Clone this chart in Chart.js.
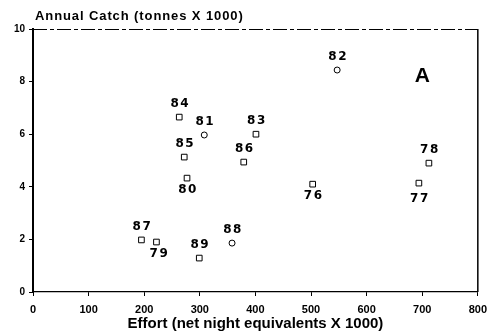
<!DOCTYPE html>
<html lang="en">
<head>
  <meta charset="UTF-8" />
  <title>annual catch vs effort</title>
  <script src="https://cdn.jsdelivr.net/npm/chart.js@4.4.0/dist/chart.umd.min.js"></script>
  <style>
    body { margin: 0; background: #fff; }
  </style>
</head>
<body>
  <canvas id="myChart" width="494" height="335"></canvas>
  <script>
    // values (effort in 1000 net nights, catch in 1000 t)
    const years = ['76', '77', '78', '79', '80', '81', '82', '83', '84', '85', '86', '87', '88', '89'];
    const effort = [503, 694, 712, 222, 277, 308, 547, 401, 263, 272, 379, 195, 358, 299];
    const annualCatch = [4.1, 4.14, 4.9, 1.9, 4.33, 5.97, 8.44, 6.0, 6.65, 5.13, 4.94, 1.98, 1.86, 1.29];
    const xTicks = [0, 100, 200, 300, 400, 500, 600, 700, 800];
    const yTicks = [0, 2, 4, 6, 8, 10];

    // years whose label sits under the marker, and the ones drawn as circles
    const labelBelow = ['76', '77', '79', '80'];
    const circles = ['81', '82', '88'];

    const boldFont = (size) => ({ family: 'Liberation Sans', size: size, weight: 'bold' });

    const yearLabels = {
      id: 'yearLabels',
      afterDatasetsDraw(chart) {
        const ctx = chart.ctx;
        const meta = chart.getDatasetMeta(0);
        ctx.save();
        ctx.fillStyle = '#000';
        ctx.font = 'bold 12px "DejaVu Sans"';
        ctx.letterSpacing = '1.5px';
        ctx.textAlign = 'center';
        ctx.textBaseline = 'middle';
        meta.data.forEach((pt, i) => {
          const below = labelBelow.includes(years[i]);
          const dy = below ? (years[i] === '77' ? 16 : 12) : -13;
          const dx = years[i] === '79' ? 3 : 1;
          ctx.fillText(years[i], pt.x + dx, pt.y + dy);
        });
        // panel letter
        ctx.letterSpacing = '0px';
        ctx.font = 'bold 21px "Liberation Sans"';
        ctx.fillText('A', chart.scales.x.getPixelForValue(700), chart.scales.y.getPixelForValue(8.2));
        // title above the y axis
        ctx.textAlign = 'left';
        ctx.font = 'bold 13px "Liberation Sans"';
        ctx.letterSpacing = '0.9px';
        ctx.fillText('Annual Catch (tonnes X 1000)', 35, 16);
        ctx.restore();
      },
      beforeDatasetsDraw(chart) {
        const { ctx, chartArea: a } = chart;
        ctx.save();
        ctx.strokeStyle = '#000';
        ctx.lineWidth = 1;
        ctx.setLineDash([14, 3, 4, 3]);
        ctx.beginPath();
        ctx.moveTo(a.left, a.top + 0.5);
        ctx.lineTo(a.right, a.top + 0.5);
        ctx.stroke();
        ctx.setLineDash([]);
        ctx.lineWidth = 1.5;
        ctx.beginPath();
        ctx.moveTo(a.right, a.top);
        ctx.lineTo(a.right, a.bottom);
        ctx.stroke();
        ctx.restore();
      }
    };

    const ctx = document.getElementById('myChart').getContext('2d');
    const myChart = new Chart(ctx, {
      type: 'scatter',
      data: {
        datasets: [{
          data: effort.map((e, i) => ({ x: e, y: annualCatch[i] })),
          pointStyle: years.map(y => circles.includes(y) ? 'circle' : 'rect'),
          pointRadius: years.map(y => circles.includes(y) ? 3 : 4),
          borderColor: '#000',
          backgroundColor: '#fff',
          borderWidth: 1
        }]
      },
      options: {
        responsive: false,
        animation: false,
        layout: { padding: { top: 29, right: 14, left: 0, bottom: 0 } },
        plugins: { legend: { display: false }, tooltip: { enabled: false } },
        scales: {
          x: {
            type: 'linear',
            min: 0,
            max: 800,
            afterBuildTicks: (s) => { s.ticks = xTicks.map(v => ({ value: v })); },
            afterFit: (s) => { s.height = 43; },
            grid: { display: true, drawOnChartArea: false, tickLength: 4, color: '#000' },
            border: { display: true, color: '#000', width: 1.2 },
            ticks: { color: '#000', font: boldFont(11), padding: 7, maxRotation: 0 },
            title: {
              display: true,
              text: 'Effort (net night equivalents X 1000)',
              color: '#000',
              font: boldFont(15),
              padding: { top: 0, bottom: 2 }
            }
          },
          y: {
            min: 0,
            max: 10,
            afterBuildTicks: (s) => { s.ticks = yTicks.map(v => ({ value: v })); },
            afterFit: (s) => { s.width = 33; },
            grid: { display: true, drawOnChartArea: false, tickLength: 4, color: '#000' },
            border: { display: true, color: '#000', width: 2 },
            ticks: { color: '#000', font: boldFont(10), padding: 4 }
          }
        }
      },
      plugins: [yearLabels]
    });
  </script>
</body>
</html>
